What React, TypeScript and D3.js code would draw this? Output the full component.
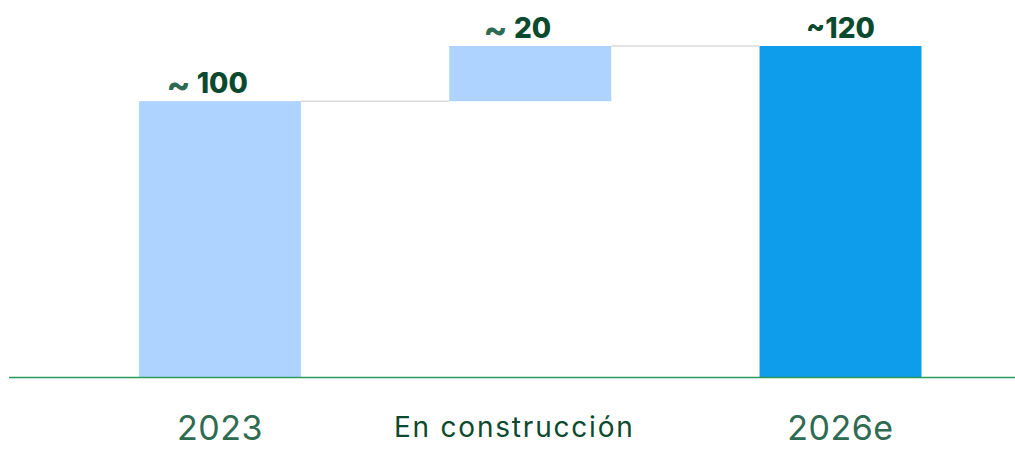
import React from "react";
import * as d3 from "d3";

const categories = ["2023", "En construcción", "2026e"];
const values = [100, 20, 120];
const kinds = ["total", "delta", "total"];
const valueLabels = ["100", "20", "120"];
const tildeSpaced = [true, true, false];

const W = 1015;
const H = 449;

export default function App() {
  const x = d3.scaleBand<string>().domain(categories).range([139, 921.5]).paddingInner(0.478).paddingOuter(0);
  const y = d3.scaleLinear().domain([0, 120]).range([377, 46]);

  let running = 0;
  const bars = categories.map((c, i) => {
    let y0: number, y1: number;
    if (kinds[i] === "total") {
      y0 = 0; y1 = values[i]; running = values[i];
    } else {
      y0 = running; y1 = running + values[i]; running = y1;
    }
    return { c, y0, y1, i };
  });

  const colors = ["#AFD3FF", "#AFD3FF", "#0E9DEB"];

  return (
    <svg width={W} height={H} style={{ position: "absolute", left: 0, top: 0, display: "block" }}>
      <rect width={W} height={H} fill="#fff" />
      {bars.map((b, i) => (
        <rect key={b.c} x={x(b.c)} y={y(b.y1)} width={x.bandwidth()} height={y(b.y0) - y(b.y1)} fill={colors[i]} />
      ))}
      {bars.slice(0, -1).map((b, i) => {
        const nx = bars[i + 1];
        return (
          <line key={"c" + i} x1={(x(b.c) as number) + x.bandwidth()} x2={x(nx.c)} y1={y(b.y1)} y2={y(b.y1)} stroke="#D9D9D9" strokeWidth={1.5} />
        );
      })}
      <line x1={9} x2={1015} y1={377.5} y2={377.5} stroke="#2A9A5A" strokeWidth={1.5} />
      {bars.map((b, i) => {
        const cx = (x(b.c) as number) + x.bandwidth() / 2;
        const ty = y(b.y1) - 8;
        return tildeSpaced[i] ? (
          <text key={"l" + i} x={cx - 13} y={ty} textAnchor="middle" fontFamily="Inter" fontWeight={800} fontSize={28} fill="#0B4A2E">
            <tspan fontSize={36} fontWeight={700} fill="#2E6B52" dy={4}>~</tspan>
            <tspan dy={-4}> {valueLabels[i]}</tspan>
          </text>
        ) : (
          <text key={"l" + i} x={cx} y={ty} textAnchor="middle" fontFamily="Inter" fontWeight={800} fontSize={28} fill="#0B4A2E">
            {"~" + valueLabels[i]}
          </text>
        );
      })}
      {categories.map((c, i) => {
        const cx = (x(c) as number) + x.bandwidth() / 2;
        const isMid = kinds[i] === "delta";
        return (
          <text key={"t" + i} x={isMid ? cx - 16 : cx} y={isMid ? 437 : 440} textAnchor="middle" fontFamily="Inter" fontWeight={400}
            fontSize={isMid ? 28 : 34} letterSpacing={isMid ? 1.8 : 0.5} fill={isMid ? "#0B4A2E" : "#2E6B52"}>
            {c}
          </text>
        );
      })}
    </svg>
  );
}
